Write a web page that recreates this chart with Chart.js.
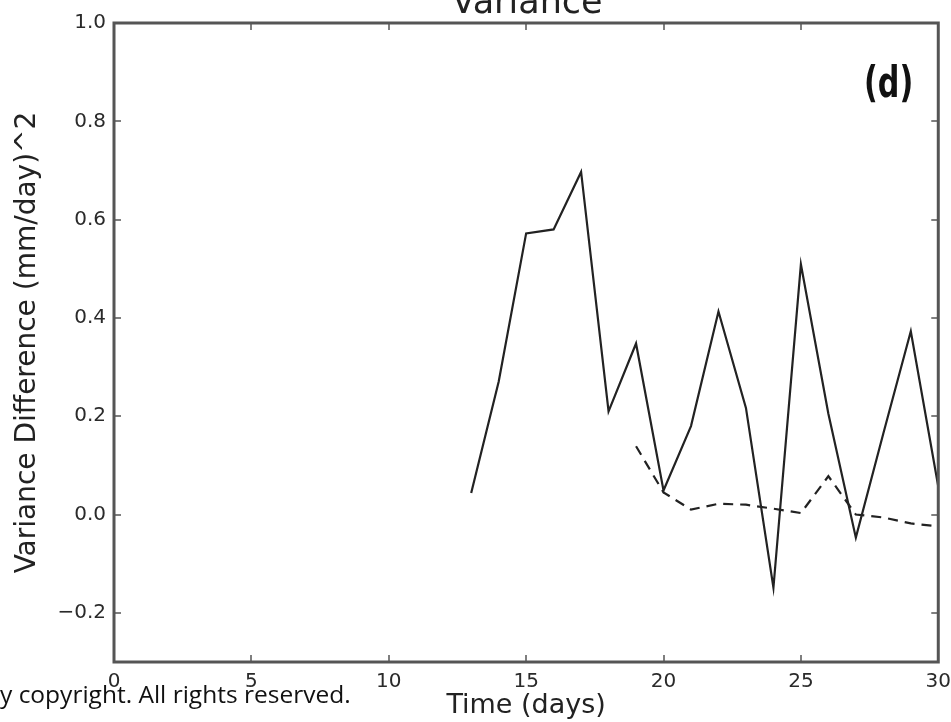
<!DOCTYPE html>
<html>
<head>
<meta charset="utf-8">
<script src="https://cdn.jsdelivr.net/npm/chart.js@4.4.0/dist/chart.umd.min.js"></script>
<style>
  html, body { margin: 0; padding: 0; background: #fff; }
  #wrap { position: relative; width: 951px; height: 722px; overflow: hidden; }
  #note {
    position: absolute; left: 0; top: 678px;
    font-family: "Open Sans", sans-serif; font-size: 24.5px; color: #111;
    white-space: nowrap; line-height: 32px;
  }
</style>
</head>
<body>
<div id="wrap">
  <canvas id="myChart" width="951" height="722"></canvas>
  <div id="note">y copyright. All rights reserved.</div>
</div>
<script>
// solid line: days 13..30
var solidDays = [13, 14, 15, 16, 17, 18, 19, 20, 21, 22, 23, 24, 25, 26, 27, 28, 29, 30]
var solidValues = [0.044, 0.27, 0.572, 0.58, 0.697, 0.21, 0.348, 0.049, 0.18, 0.413, 0.217, -0.149, 0.509, 0.205, -0.047, 0.165, 0.373, 0.057]

// dashed line: days 19..30
var dashDays = [19, 20, 21, 22, 23, 24, 25, 26, 27, 28, 29, 30]
var dashValues = [0.139, 0.045, 0.01, 0.022, 0.02, 0.012, 0.003, 0.078, 0.0, -0.006, -0.018, -0.024]

var xTicks = [0, 5, 10, 15, 20, 25, 30]
var yTicks = [-0.2, 0.0, 0.2, 0.4, 0.6, 0.8, 1.0]

var axisColor = '#555'
var textColor = '#2a2a2a'

// matplotlib style frame: box round the plot + inward ticks on all four sides
var framePlugin = {
  id: 'frame',
  afterDatasetsDraw: function (chart) {
    var ctx = chart.ctx
    var a = chart.chartArea
    var xs = chart.scales.x
    var ys = chart.scales.y
    ctx.save()
    ctx.strokeStyle = axisColor
    ctx.lineWidth = 1.5
    xTicks.forEach(function (v) {
      var px = Math.round(xs.getPixelForValue(v))
      ctx.beginPath()
      ctx.moveTo(px, a.bottom); ctx.lineTo(px, a.bottom - 7)
      ctx.moveTo(px, a.top); ctx.lineTo(px, a.top + 7)
      ctx.stroke()
    })
    yTicks.forEach(function (v) {
      var py = Math.round(ys.getPixelForValue(v))
      ctx.beginPath()
      ctx.moveTo(a.left, py); ctx.lineTo(a.left + 7, py)
      ctx.moveTo(a.right, py); ctx.lineTo(a.right - 7, py)
      ctx.stroke()
    })
    ctx.lineWidth = 3
    ctx.strokeRect(a.left, a.top, a.right - a.left, a.bottom - a.top)

    // panel label (narrow bold, squeezed a bit)
    ctx.save()
    ctx.translate(a.right - 25, a.top + 74)
    ctx.scale(0.8, 1)
    ctx.fillStyle = '#111'
    ctx.font = 'bold 42px "DejaVu Sans Condensed", "DejaVu Sans", sans-serif'
    ctx.textAlign = 'right'
    ctx.textBaseline = 'alphabetic'
    ctx.fillText('(d)', 0, 0)
    ctx.restore()

    // title, cut at the top edge like the original
    ctx.fillStyle = '#222'
    ctx.font = '35px "DejaVu Sans"'
    ctx.textAlign = 'center'
    ctx.fillText('Variance', 527, 13)
    ctx.restore()
  }
}

var ctx = document.getElementById('myChart').getContext('2d')
var chart = new Chart(ctx, {
  type: 'line',
  data: {
    datasets: [{
      label: 'solid',
      data: solidDays.map(function (d, i) { return { x: d, y: solidValues[i] } }),
      borderColor: '#222',
      borderWidth: 2.2,
      pointRadius: 0,
      tension: 0,
      fill: false
    },
    {
      label: 'dashed',
      data: dashDays.map(function (d, i) { return { x: d, y: dashValues[i] } }),
      borderColor: '#222',
      borderWidth: 2.2,
      borderDash: [10, 7],
      pointRadius: 0,
      tension: 0,
      fill: false
    }]
  },
  options: {
    responsive: false,
    animation: false,
    layout: { padding: { top: 23, right: 11, left: 0, bottom: 0 } },
    plugins: {
      legend: { display: false },
      tooltip: { enabled: false },
      title: { display: false }
    },
    scales: {
      x: {
        type: 'linear',
        min: 0,
        max: 30,
        afterBuildTicks: function (scale) {
          scale.ticks = xTicks.map(function (v) { return { value: v } })
        },
        afterFit: function (scale) { scale.height = 60 },
        grid: { display: false },
        border: { display: false },
        ticks: {
          color: textColor,
          font: { family: 'DejaVu Sans', size: 20 },
          padding: 0,
          maxRotation: 0
        },
        title: {
          display: true,
          text: 'Time (days)',
          color: '#222',
          font: { family: 'DejaVu Sans', size: 27 },
          padding: { top: 2, bottom: 0 }
        }
      },
      y: {
        type: 'linear',
        min: -0.3,
        max: 1.0,
        afterBuildTicks: function (scale) {
          scale.ticks = yTicks.map(function (v) { return { value: v } })
        },
        afterFit: function (scale) { scale.width = 114 },
        grid: { display: false },
        border: { display: false },
        ticks: {
          color: textColor,
          font: { family: 'DejaVu Sans', size: 20 },
          padding: 0,
          callback: function (v) {
            return (v < 0 ? '\u2212' : '') + Math.abs(v).toFixed(1)
          }
        },
        title: {
          display: true,
          text: 'Variance Difference (mm/day)^2',
          color: '#222',
          font: { family: 'DejaVu Sans', size: 28 },
          padding: { top: 11, bottom: 0 }
        }
      }
    }
  },
  plugins: [framePlugin]
})
</script>
</body>
</html>
